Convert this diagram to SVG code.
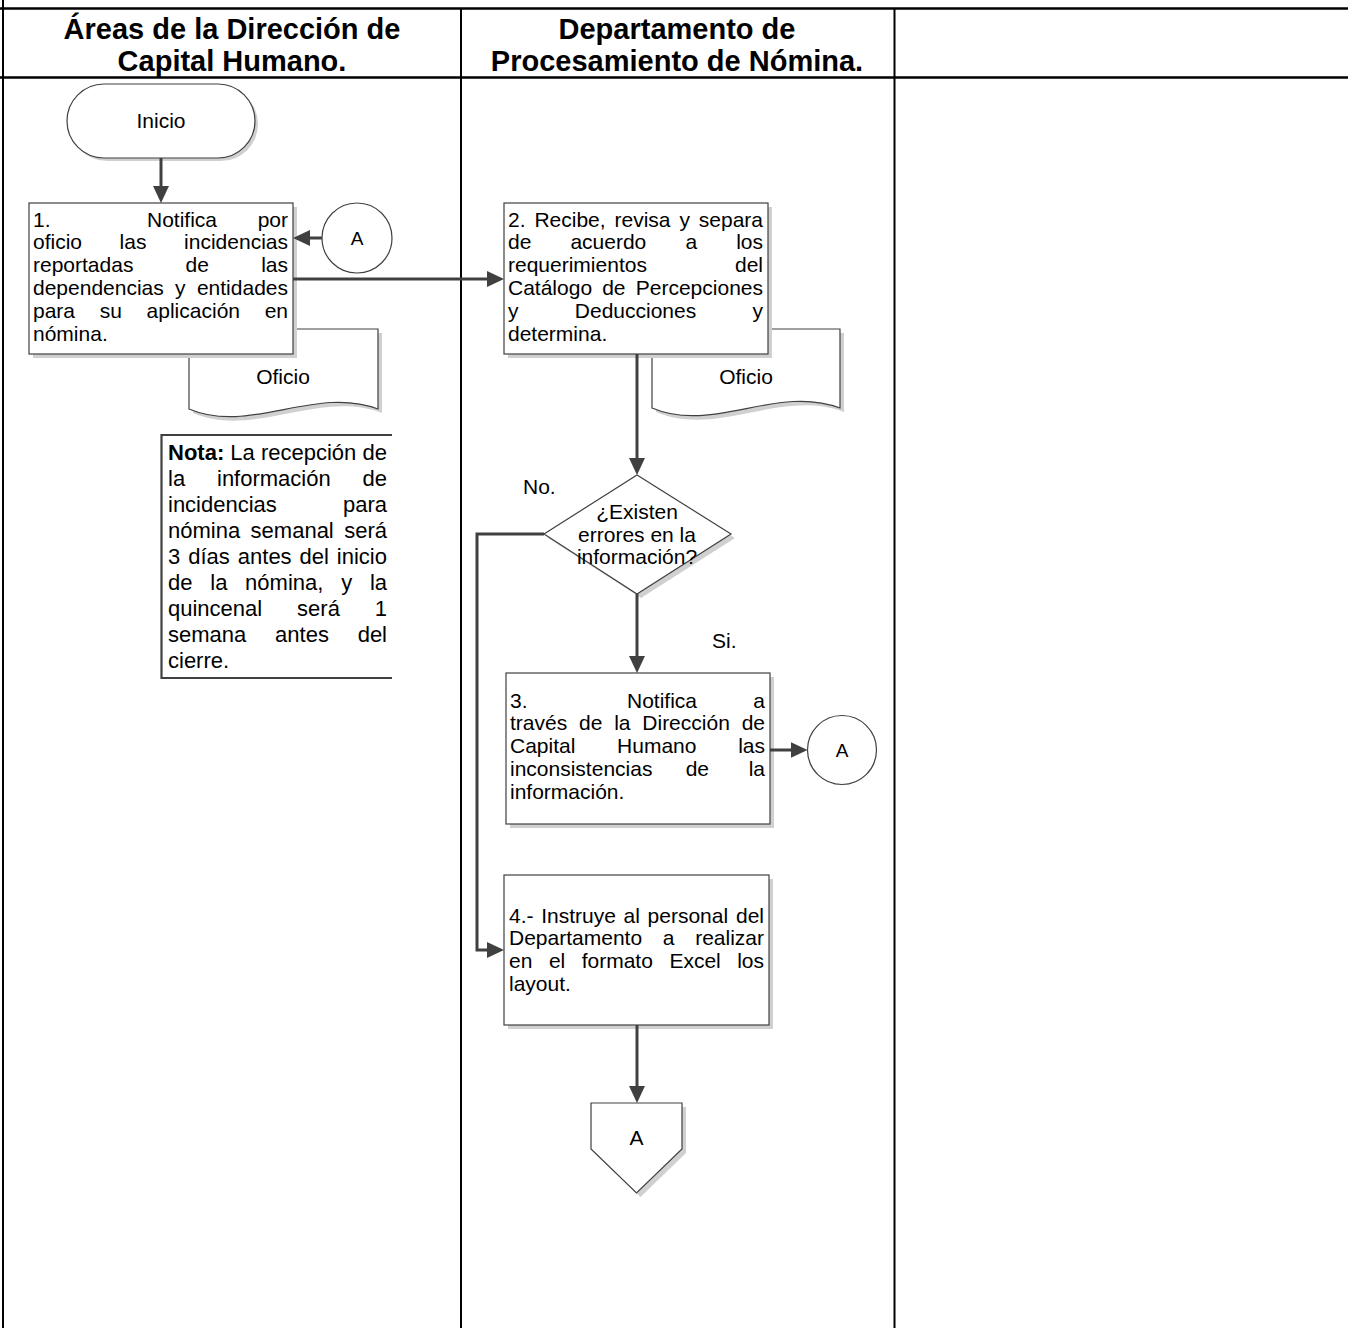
<svg xmlns="http://www.w3.org/2000/svg" width="1348" height="1328" viewBox="0 0 1348 1328">
<style>
.t{font-family:"Liberation Sans",Arial,sans-serif;font-size:21px;fill:#000}
.n{font-size:22px}
.c{font-size:19px}
.h{font-family:"Liberation Sans",Arial,sans-serif;font-size:29px;font-weight:bold;text-anchor:middle;fill:#000}
.e{text-anchor:end}
.m{text-anchor:middle}
.b{font-weight:bold}
.shape{fill:#fff;stroke:#404040;stroke-width:1.2}
.shadow{fill:#d0d0d0}
.conn{fill:none;stroke:#404040;stroke-width:3;marker-end:url(#arr)}
.grid{stroke:#000;fill:none}
</style>
<defs>
<marker id="arr" markerUnits="userSpaceOnUse" viewBox="0 0 17 16" markerWidth="17" markerHeight="16" refX="13" refY="8" orient="auto">
<path d="M0,0 L17,8 L0,16 z" fill="#404040"/>
</marker>
</defs>
<rect width="1348" height="1328" fill="#fff"/>
<g id="table">
<line class="grid" x1="0" y1="8.5" x2="1348" y2="8.5" stroke-width="2.5"/>
<line class="grid" x1="0" y1="77.5" x2="1348" y2="77.5" stroke-width="2.5"/>
<line class="grid" x1="3" y1="0" x2="3" y2="1328" stroke-width="2"/>
<line class="grid" x1="461" y1="8.5" x2="461" y2="1328" stroke-width="2"/>
<line class="grid" x1="894.5" y1="8.5" x2="894.5" y2="1328" stroke-width="2"/>
<text class="h" x="232" y="39">Áreas de la Dirección de</text>
<text class="h" x="232" y="71">Capital Humano.</text>
<text class="h" x="677" y="39">Departamento de</text>
<text class="h" x="677" y="71">Procesamiento de Nómina.</text>
</g>
<g id="doc1">
<path class="shadow" d="M193,333 H382 V413 C319,389 254,439 193,413 Z"/>
<path class="shape" d="M189,329 H378 V409 C315,385 250,435 189,409 Z"/>
<text class="t m" x="283" y="384">Oficio</text>
</g>
<g id="doc2">
<path class="shadow" d="M656,333 H844 V412 C781,388 717,438 656,412 Z"/>
<path class="shape" d="M652,329 H840 V408 C777,384 713,434 652,408 Z"/>
<text class="t m" x="746" y="384">Oficio</text>
</g>
<g id="inicio">
<rect class="shadow" x="70" y="87" width="188" height="74" rx="37"/>
<rect class="shape" x="67" y="84" width="188" height="74" rx="37"/>
<text class="t m" x="161" y="128">Inicio</text>
</g>
<g id="box1">
<rect class="shadow" x="33" y="207" width="264" height="151"/>
<rect class="shape" x="29" y="203" width="264" height="151"/>
<text class="t"><tspan x="33" y="226.5">1.</tspan><tspan x="147" y="226.5">Notifica</tspan><tspan class="e" x="288" y="226.5">por</tspan></text>
<text class="t"><tspan x="33" y="249.3">oficio</tspan><tspan x="119.6" y="249.3">las</tspan><tspan class="e" x="288" y="249.3">incidencias</tspan></text>
<text class="t"><tspan x="33" y="272.1">reportadas</tspan><tspan x="185.6" y="272.1">de</tspan><tspan class="e" x="288" y="272.1">las</tspan></text>
<text class="t"><tspan x="33" y="294.9">dependencias</tspan><tspan x="175" y="294.9">y</tspan><tspan class="e" x="288" y="294.9">entidades</tspan></text>
<text class="t"><tspan x="33" y="317.7">para</tspan><tspan x="99.7" y="317.7">su</tspan><tspan x="146.6" y="317.7">aplicación</tspan><tspan class="e" x="288" y="317.7">en</tspan></text>
<text class="t" x="33" y="340.5">nómina.</text>
</g>
<g id="circleA1">
<circle class="shape" cx="357" cy="238" r="35"/>
<text class="t c m" x="357" y="245">A</text>
</g>
<g id="box2">
<rect class="shadow" x="508" y="207" width="264" height="151"/>
<rect class="shape" x="504" y="203" width="264" height="151"/>
<text class="t"><tspan x="508" y="226.5">2.</tspan><tspan x="534.4" y="226.5">Recibe,</tspan><tspan x="614.5" y="226.5">revisa</tspan><tspan x="679.4" y="226.5">y</tspan><tspan class="e" x="763" y="226.5">separa</tspan></text>
<text class="t"><tspan x="508" y="249.3">de</tspan><tspan x="570.4" y="249.3">acuerdo</tspan><tspan x="685.4" y="249.3">a</tspan><tspan class="e" x="763" y="249.3">los</tspan></text>
<text class="t"><tspan x="508" y="272.1">requerimientos</tspan><tspan class="e" x="763" y="272.1">del</tspan></text>
<text class="t"><tspan x="508" y="294.9">Catálogo</tspan><tspan x="602.2" y="294.9">de</tspan><tspan class="e" x="763" y="294.9">Percepciones</tspan></text>
<text class="t"><tspan x="508" y="317.7">y</tspan><tspan x="574.8" y="317.7">Deducciones</tspan><tspan class="e" x="763" y="317.7">y</tspan></text>
<text class="t" x="508" y="340.5">determina.</text>
</g>
<g id="nota">
<path d="M392,435 H161.5 V678 H392" fill="none" stroke="#404040" stroke-width="2.2"/>
<text class="t n"><tspan class="b" x="168" y="460">Nota:</tspan><tspan x="230.3" y="460">La</tspan><tspan x="260.9" y="460">recepción</tspan><tspan class="e" x="387" y="460">de</tspan></text>
<text class="t n"><tspan x="168" y="486">la</tspan><tspan x="217" y="486">información</tspan><tspan class="e" x="387" y="486">de</tspan></text>
<text class="t n"><tspan x="168" y="512">incidencias</tspan><tspan class="e" x="387" y="512">para</tspan></text>
<text class="t n"><tspan x="168" y="538">nómina</tspan><tspan x="250.6" y="538">semanal</tspan><tspan class="e" x="387" y="538">será</tspan></text>
<text class="t n"><tspan x="168" y="564">3</tspan><tspan x="188.2" y="564">días</tspan><tspan x="237.8" y="564">antes</tspan><tspan x="299.6" y="564">del</tspan><tspan class="e" x="387" y="564">inicio</tspan></text>
<text class="t n"><tspan x="168" y="590">de</tspan><tspan x="210.3" y="590">la</tspan><tspan x="245.1" y="590">nómina,</tspan><tspan x="341.2" y="590">y</tspan><tspan class="e" x="387" y="590">la</tspan></text>
<text class="t n"><tspan x="168" y="616">quincenal</tspan><tspan x="297.1" y="616">será</tspan><tspan class="e" x="387" y="616">1</tspan></text>
<text class="t n"><tspan x="168" y="642">semana</tspan><tspan x="275.1" y="642">antes</tspan><tspan class="e" x="387" y="642">del</tspan></text>
<text class="t n" x="168" y="668">cierre.</text>
</g>
<g id="decision">
<polygon class="shadow" points="641,479 735,538 641,598 548,538"/>
<polygon class="shape" points="637,475 731,534 637,594 544,534"/>
<text class="t m" x="637" y="518.7">¿Existen</text>
<text class="t m" x="637" y="541.5">errores en la</text>
<text class="t m" x="637" y="564.3">información?</text>
</g>
<g id="labels">
<text class="t" x="523" y="494">No.</text>
<text class="t" x="712" y="648">Si.</text>
</g>
<g id="box3">
<rect class="shadow" x="510" y="677" width="264" height="151"/>
<rect class="shape" x="506" y="673" width="264" height="151"/>
<text class="t"><tspan x="510" y="707.5">3.</tspan><tspan x="627" y="707.5">Notifica</tspan><tspan class="e" x="765" y="707.5">a</tspan></text>
<text class="t"><tspan x="510" y="730.3">través</tspan><tspan x="579" y="730.3">de</tspan><tspan x="614.2" y="730.3">la</tspan><tspan x="642.3" y="730.3">Dirección</tspan><tspan class="e" x="765" y="730.3">de</tspan></text>
<text class="t"><tspan x="510" y="753.1">Capital</tspan><tspan x="617.1" y="753.1">Humano</tspan><tspan class="e" x="765" y="753.1">las</tspan></text>
<text class="t"><tspan x="510" y="775.9">inconsistencias</tspan><tspan x="685.7" y="775.9">de</tspan><tspan class="e" x="765" y="775.9">la</tspan></text>
<text class="t" x="510" y="798.7">información.</text>
</g>
<g id="circleA2">
<circle class="shape" cx="842" cy="750" r="34.5"/>
<text class="t c m" x="842" y="757">A</text>
</g>
<g id="box4">
<rect class="shadow" x="508" y="879" width="265" height="150"/>
<rect class="shape" x="504" y="875" width="265" height="150"/>
<text class="t"><tspan x="509" y="922.5">4.-</tspan><tspan x="541.2" y="922.5">Instruye</tspan><tspan x="623.6" y="922.5">al</tspan><tspan x="647.6" y="922.5">personal</tspan><tspan class="e" x="764" y="922.5">del</tspan></text>
<text class="t"><tspan x="509" y="945.3">Departamento</tspan><tspan x="662.8" y="945.3">a</tspan><tspan class="e" x="764" y="945.3">realizar</tspan></text>
<text class="t"><tspan x="509" y="968.1">en</tspan><tspan x="548.9" y="968.1">el</tspan><tspan x="581.7" y="968.1">formato</tspan><tspan x="669.4" y="968.1">Excel</tspan><tspan class="e" x="764" y="968.1">los</tspan></text>
<text class="t" x="509" y="990.9">layout.</text>
</g>
<g id="offpageA">
<polygon class="shadow" points="595,1107 686,1107 686,1153 640.5,1197 595,1153"/>
<polygon class="shape" points="591,1103 682,1103 682,1149 636.5,1193 591,1149"/>
<text class="t m" x="636.5" y="1145">A</text>
</g>
<g id="connectors">
<path class="conn" d="M161,158 V199"/>
<path class="conn" d="M322,238 H297"/>
<path class="conn" d="M293,279 H500"/>
<path class="conn" d="M637,354 V471"/>
<path class="conn" d="M637,594 V669"/>
<path class="conn" d="M770,750 H803.5"/>
<path class="conn" d="M544,534 H477 V950 H500"/>
<path class="conn" d="M637,1025 V1099"/>
</g>
</svg>
